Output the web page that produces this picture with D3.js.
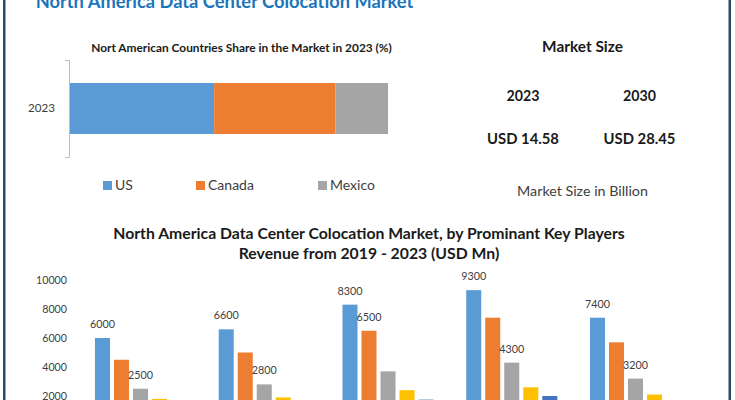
<!DOCTYPE html>
<html><head><meta charset="utf-8">
<script src="https://cdn.jsdelivr.net/npm/d3@7"></script>
<style>body{margin:0;background:#fff;} svg{display:block;font-family:Lato,'Open Sans',sans-serif;}</style>
</head><body><svg id="c" width="735" height="400"></svg>
<script>
// ---- data ----
const mainTitle = "North America Data Center Colocation Market";
const shareTitle = "Nort American Countries Share in the Market in 2023 (%)";
const shareCategories = ["2023"];
const countries = ["US", "Canada", "Mexico"];
const shareValues = [45.5, 38, 16.5];
const marketTitle = "Market Size";
const marketYears = ["2023", "2030"];
const marketValues = ["USD 14.58", "USD 28.45"];
const marketNote = "Market Size in Billion";
const revTitle1 = "North America Data Center Colocation Market, by Prominant Key Players";
const revTitle2 = "Revenue from 2019 - 2023 (USD Mn)";
const years = ["2019", "2020", "2021", "2022", "2023"];
const players = ["Player 1", "Player 2", "Player 3", "Player 4", "Player 5"];
const player1 = [6000, 6600, 8300, 9300, 7400];
const player2 = [4500, 5000, 6500, 7400, 5700];
const player3 = [2500, 2800, 3700, 4300, 3200];
const player4 = [1800, 1900, 2400, 2600, 2100];
const player5 = [1500, 1600, 1750, 2000, 1650];
const labelledPlayers = [[0, 2], [0, 2], [0, 1], [0, 2], [0, 2]];
const yTicks = [0, 2000, 4000, 6000, 8000, 10000];

// ---- styles ----
const countryColors = ["#5b9bd5", "#ed7d31", "#a5a5a5"];
const playerColors = ["#5b9bd5", "#ed7d31", "#a5a5a5", "#ffc000", "#4472c4"];
const textDark = "#1a1a1a", textGray = "#404040";

const svg = d3.select("#c");
function fit(sel, w) {
  const fs = parseFloat(sel.attr("font-size"));
  const cw = sel.node().getComputedTextLength();
  const nf = fs * w / cw;
  sel.attr("font-size", nf);
  return nf;
}
function txt(x, y, s, fs, weight, fill, anchor) {
  return svg.append("text").attr("x", x).attr("y", y).text(s)
    .attr("font-size", fs).attr("font-weight", weight).attr("fill", fill)
    .attr("text-anchor", anchor || "middle");
}

// borders
svg.append("rect").attr("x", 3).attr("y", 0).attr("width", 2.5).attr("height", 400).attr("fill", "#2b4a6a");
svg.append("rect").attr("x", 728.5).attr("y", 0).attr("width", 2.5).attr("height", 400).attr("fill", "#2b4a6a");

// main title (cut off at top)
fit(txt(224.5, 8, mainTitle, 20, "bold", "#1b75bb"), 378);

// ---- share chart ----
fit(txt(241.5, 52, shareTitle, 11, "bold", textDark), 301);
const shareRow = {cat: shareCategories[0]};
countries.forEach((c, i) => shareRow[c] = shareValues[i]);
const stacked = d3.stack().keys(countries)([shareRow]);
const sx = d3.scaleLinear().domain([0, d3.sum(shareValues)]).range([69, 388]);
const sy = d3.scaleBand().domain(shareCategories).range([60, 157]).paddingInner(0).paddingOuter(0.451);
svg.append("g").selectAll("rect").data(stacked).join("rect")
  .attr("x", d => sx(d[0][0])).attr("width", d => sx(d[0][1]) - sx(d[0][0]))
  .attr("y", sy(shareCategories[0])).attr("height", sy.bandwidth())
  .attr("fill", (d, i) => countryColors[i]);
const sAxis = svg.append("g").attr("transform", "translate(69,0)")
  .call(d3.axisLeft(sy).tickSizeInner(0).tickSizeOuter(4).tickPadding(14));
sAxis.select(".domain").attr("stroke", "#bfbfbf");
sAxis.selectAll("text").attr("font-family", "Lato").attr("font-size", 12).attr("fill", textGray);
fit(sAxis.select("text"), 27);

// legend
const legX = [103, 196, 318];
const legG = svg.append("g");
let legFs = null;
countries.forEach((c, i) => {
  legG.append("rect").attr("x", legX[i]).attr("y", 181).attr("width", 9).attr("height", 9).attr("fill", countryColors[i]);
  const t = legG.append("text").attr("x", legX[i] + 12).attr("y", 190).text(c)
    .attr("font-size", 13).attr("fill", textGray);
  if (c === "Canada") legFs = fit(t, 46);
});
legG.selectAll("text").attr("font-size", legFs);

// ---- market size panel ----
fit(txt(582.5, 52, marketTitle, 15, "bold", textDark), 81);
const mx = [523, 639.5];
let yrFs = null, valFs = null;
marketYears.forEach((y, i) => {
  const t = txt(mx[i], 101, y, 15, "bold", textDark);
  if (i === 0) yrFs = fit(t, 33); else t.attr("font-size", yrFs);
});
marketValues.forEach((v, i) => {
  const t = txt(mx[i], 144, v, 15, "bold", textDark);
  if (i === 0) valFs = fit(t, 72); else t.attr("font-size", valFs);
});
fit(txt(582.5, 196, marketNote, 14, "normal", textGray), 131);

// ---- revenue chart ----
const t1fs = fit(txt(369, 239, revTitle1, 15, "bold", textDark), 512);
txt(369, 259, revTitle2, t1fs, "bold", textDark);

const series = [player1, player2, player3, player4, player5];
const x0 = d3.scaleBand().domain(years).range([78.6, 697.4]).padding(0);
const x1 = d3.scaleBand().domain(players).range([0, x0.bandwidth()]).paddingInner(0.21).paddingOuter(0.86);
const y = d3.scaleLinear().domain([0, 10000]).range([425, 280]);

const yAxis = svg.append("g").attr("transform", "translate(70,0)")
  .call(d3.axisLeft(y).tickValues(yTicks).tickSize(0).tickPadding(3).tickFormat(d3.format("d")));
yAxis.select(".domain").remove();
yAxis.selectAll("text").attr("font-family", "Lato").attr("font-size", 11).attr("fill", textGray);
const tickFs = fit(yAxis.selectAll("text").filter(d => d === 10000), 31);
yAxis.selectAll("text").attr("font-size", tickFs);

const groups = svg.append("g").selectAll("g").data(years).join("g")
  .attr("transform", d => `translate(${x0(d)},0)`);
groups.selectAll("rect").data((d, gi) => series.map((s, si) => ({p: players[si], v: s[gi], si})))
  .join("rect")
  .attr("x", d => x1(d.p)).attr("width", x1.bandwidth())
  .attr("y", d => y(d.v)).attr("height", d => y(0) - y(d.v))
  .attr("fill", d => playerColors[d.si]);

let lblFs = null;
groups.each(function(yr, gi) {
  labelledPlayers[gi].forEach(si => {
    const t = d3.select(this).append("text")
      .attr("x", x1(players[si]) + x1.bandwidth() / 2)
      .attr("y", y(series[si][gi]) - 10)
      .attr("text-anchor", "middle").attr("fill", textGray)
      .attr("font-size", 12).text(series[si][gi]);
    if (lblFs === null) lblFs = fit(t, 25);
    t.attr("font-size", lblFs);
  });
});
</script></body></html>
